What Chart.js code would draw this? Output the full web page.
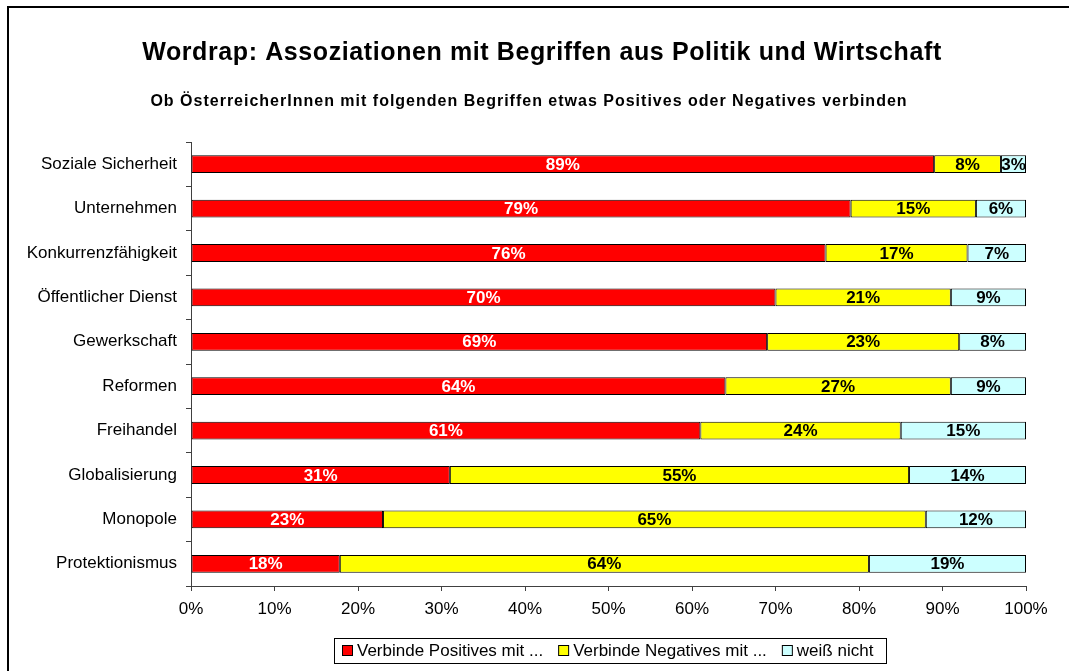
<!DOCTYPE html>
<html><head><meta charset="utf-8">
<script src="https://cdn.jsdelivr.net/npm/chart.js@4"></script>
<style>html,body{margin:0;padding:0;background:#fff}#wrap{width:1069px;height:671px;position:relative}</style>
</head><body><div id="wrap"><canvas id="c" width="1069" height="671"></canvas></div>
<script>
const categories = ['Soziale Sicherheit','Unternehmen','Konkurrenzfähigkeit','Öffentlicher Dienst','Gewerkschaft','Reformen','Freihandel','Globalisierung','Monopole','Protektionismus'];
const positive = [89,79,76,70,69,64,61,31,23,18];
const negative = [8,15,17,21,23,27,24,55,65,64];
const unknown  = [3,6,7,9,8,9,15,14,12,19];
const seriesNames = ['Verbinde Positives mit ...','Verbinde Negatives mit ...','weiß nicht'];
const seriesColors = ['#FF0000','#FFFF00','#CCFFFF'];
const labelColors = ['#FFFFFF','#000000','#000000'];
const xTickValues = [0,10,20,30,40,50,60,70,80,90,100];
const titleText = 'Wordrap: Assoziationen mit Begriffen aus Politik und Wirtschaft';
const subtitleText = 'Ob ÖsterreicherInnen mit folgenden Begriffen etwas Positives oder Negatives verbinden';

const FONT = '"Liberation Sans", Arial, sans-serif';
const raw = [positive, negative, unknown];
const totals = categories.map((_, i) => positive[i] + negative[i] + unknown[i]);

const datasets = raw.map((arr, k) => ({
  label: seriesNames[k],
  data: arr.map((v, i) => v / totals[i] * 100),
  rawValues: arr,
  backgroundColor: seriesColors[k],
  borderColor: '#000000',
  borderWidth: 1,
  borderSkipped: false,
  barPercentage: 0.4,
  categoryPercentage: 1.0
}));

const decor = {
  id: 'decor',
  beforeDraw(chart) {
    const ctx = chart.ctx;
    ctx.save();
    ctx.fillStyle = '#fff';
    ctx.fillRect(0, 0, chart.width, chart.height);
    ctx.strokeStyle = '#000';
    ctx.lineWidth = 2;
    ctx.beginPath();
    ctx.moveTo(8, chart.height);
    ctx.lineTo(8, 7);
    ctx.lineTo(chart.width, 7);
    ctx.stroke();
    ctx.fillStyle = '#000';
    ctx.textAlign = 'center';
    ctx.textBaseline = 'alphabetic';
    ctx.font = 'bold 25px ' + FONT;
    ctx.letterSpacing = '0.6px';
    ctx.fillText(titleText, 542, 60);
    ctx.font = 'bold 16px ' + FONT;
    ctx.letterSpacing = '1px';
    ctx.fillText(subtitleText, 529, 106);
    ctx.letterSpacing = '0px';
    ctx.restore();
  },
  afterDatasetsDraw(chart) {
    const ctx = chart.ctx;
    ctx.save();
    ctx.font = 'bold 17px ' + FONT;
    ctx.textAlign = 'center';
    ctx.textBaseline = 'middle';
    chart.data.datasets.forEach((ds, k) => {
      const meta = chart.getDatasetMeta(k);
      meta.data.forEach((el, i) => {
        const cx = (el.x + el.base) / 2;
        ctx.fillStyle = labelColors[k];
        ctx.fillText(ds.rawValues[i] + '%', cx, el.y + 1);
      });
    });
    // legend
    ctx.font = '17px ' + FONT;
    ctx.strokeStyle = '#000';
    ctx.lineWidth = 1;
    ctx.strokeRect(334.5, 638.5, 552, 25);
    let x = 342;
    chart.data.datasets.forEach((ds, k) => {
      ctx.fillStyle = ds.backgroundColor;
      ctx.fillRect(x + 0.5, 645.5, 10, 10);
      ctx.strokeRect(x + 0.5, 645.5, 10, 10);
      ctx.fillStyle = '#000';
      ctx.textAlign = 'left';
      ctx.textBaseline = 'middle';
      ctx.fillText(ds.label, x + 15, 651);
      x += 15 + ctx.measureText(ds.label).width + 15;
    });
    ctx.restore();
  }
};

new Chart(document.getElementById('c'), {
  type: 'bar',
  data: { labels: categories, datasets },
  options: {
    indexAxis: 'y',
    responsive: false,
    animation: false,
    layout: { padding: { top: 142, right: 43, bottom: 45, left: 0 } },
    plugins: { legend: { display: false }, title: { display: false }, tooltip: { enabled: false } },
    scales: {
      y: {
        stacked: true,
        grid: { display: true, drawOnChartArea: false, drawTicks: true, tickLength: 5, color: '#404040', offset: true },
        border: { display: true, color: '#404040', width: 1 },
        ticks: { color: '#000', font: { family: FONT, size: 17 }, padding: 9 },
        afterFit(scale) { scale.width = 191; }
      },
      x: {
        stacked: true,
        min: 0, max: 100,
        afterBuildTicks(scale) { scale.ticks = xTickValues.map(v => ({ value: v })); },
        grid: { display: true, drawOnChartArea: false, drawTicks: true, tickLength: 5, color: '#404040' },
        border: { display: true, color: '#404040', width: 1 },
        ticks: { color: '#000', font: { family: FONT, size: 17 }, padding: 8, maxRotation: 0, autoSkip: false, callback: v => v + '%' },
        afterFit(scale) { scale.height = 40; }
      }
    }
  },
  plugins: [decor]
});
</script></body></html>
